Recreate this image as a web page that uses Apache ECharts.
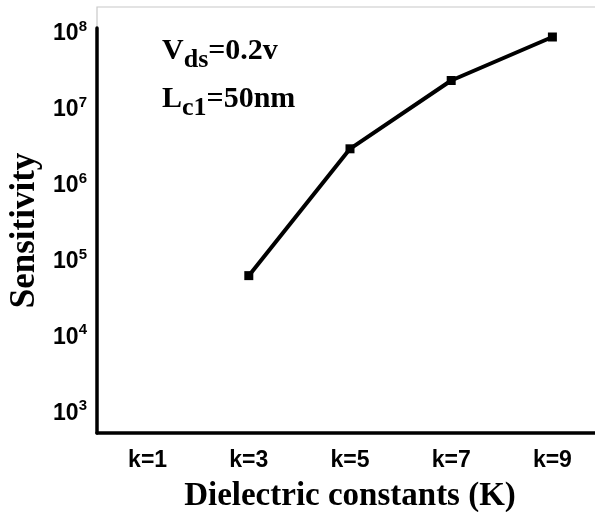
<!DOCTYPE html>
<html><head><meta charset="utf-8">
<script src="https://cdn.jsdelivr.net/npm/echarts@6/dist/echarts.min.js"></script>
<style>html,body{margin:0;padding:0;background:#fff}#c{width:595px;height:512px}</style>
</head><body><div id="c"></div>
<script>
var categories = ['k=1', 'k=3', 'k=5', 'k=7', 'k=9'];
var sensitivity = [null, 6.2e4, 2.9e6, 2.3e7, 8.6e7];
var yMin = 525, yMax = 1.13e8;

var chart = echarts.init(document.getElementById('c'));
chart.setOption({
  animation: false,
  backgroundColor: '#fff',
  grid: {left: 97, right: -8, top: 28, bottom: 79, containLabel: false, outerBoundsMode: 'none'},
  xAxis: {
    type: 'category', data: categories, boundaryGap: true,
    axisLine: {lineStyle: {color: '#000', width: 3.5}},
    axisTick: {alignWithLabel: true, length: 5, lineStyle: {color: '#000', width: 3}},
    axisLabel: {color: '#000', fontFamily: 'Liberation Sans', fontWeight: 'bold', fontSize: 23, margin: 16},
    name: 'Dielectric constants (K)', nameLocation: 'middle', nameGap: 47,
    nameTextStyle: {color: '#000', fontFamily: 'Liberation Serif', fontWeight: 'bold', fontSize: 33},
    splitLine: {show: false}
  },
  yAxis: {
    type: 'log', logBase: 10, min: yMin, max: yMax,
    axisLine: {show: true, lineStyle: {color: '#000', width: 3.5}},
    axisTick: {show: false},
    splitLine: {show: false},
    axisLabel: {
      color: '#000', margin: 10,
      formatter: function (v) {
        var e = Math.log10(v);
        if (Math.abs(e - Math.round(e)) > 1e-6) return '';
        return '{b|10}{s|' + Math.round(e) + '}';
      },
      rich: {
        b: {fontFamily: 'Liberation Sans', fontWeight: 'bold', fontSize: 23, color: '#000', verticalAlign: 'bottom', lineHeight: 26},
        s: {fontFamily: 'Liberation Sans', fontWeight: 'bold', fontSize: 15, color: '#000', verticalAlign: 'top', lineHeight: 26}
      }
    },
    name: 'Sensitivity', nameLocation: 'middle', nameGap: 51, nameRotate: 90,
    nameTextStyle: {color: '#000', fontFamily: 'Liberation Serif', fontWeight: 'bold', fontSize: 35}
  },
  graphic: [
    {type: 'polyline', silent: true, shape: {points: [[97, 28], [97, 7], [595, 7]]}, style: {stroke: '#c8c8c8', lineWidth: 1.2, fill: null}},
    {type: 'text', left: 162, top: 36, style: {
      text: '{m|V}{d|ds}{m|=0.2v}',
      rich: {
        m: {fontFamily: 'Liberation Serif', fontWeight: 'bold', fontSize: 30, fill: '#000', verticalAlign: 'top', lineHeight: 32},
        d: {fontFamily: 'Liberation Serif', fontWeight: 'bold', fontSize: 26, fill: '#000', verticalAlign: 'bottom', lineHeight: 37}
      }}},
    {type: 'text', left: 162, top: 84, style: {
      text: '{m|L}{d|c1}{m|=50nm}',
      rich: {
        m: {fontFamily: 'Liberation Serif', fontWeight: 'bold', fontSize: 30, fill: '#000', verticalAlign: 'top', lineHeight: 32},
        d: {fontFamily: 'Liberation Serif', fontWeight: 'bold', fontSize: 26, fill: '#000', verticalAlign: 'bottom', lineHeight: 37}
      }}}
  ],
  series: [{
    type: 'line', data: sensitivity, connectNulls: false,
    symbol: 'rect', symbolSize: 9,
    lineStyle: {color: '#000', width: 4},
    itemStyle: {color: '#000'}
  }]
});
</script></body></html>
